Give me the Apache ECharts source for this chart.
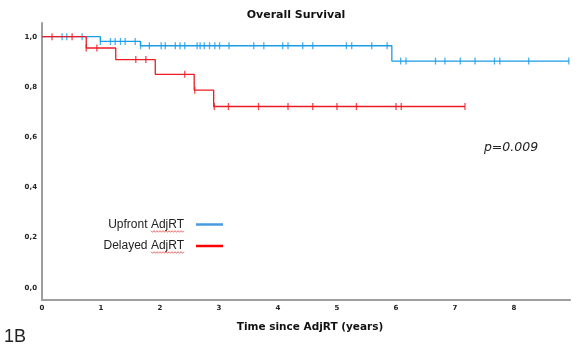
<!DOCTYPE html>
<html>
<head>
<meta charset="utf-8">
<script src="https://cdn.jsdelivr.net/npm/echarts@6/dist/echarts.min.js"></script>
<style>
  html, body { margin: 0; padding: 0; background: #fff; }
  #chart { width: 583px; height: 348px; }
</style>
</head>
<body>
<div id="chart"></div>
<script>
// Kaplan-Meier estimates: event times (years) and survival right after each event
const upfrontEventTimes = [0, 0.99, 1.67, 5.93];
const upfrontSurvival   = [1.0, 0.981, 0.964, 0.903];
const upfrontCensored   = [0.34, 0.42, 0.68, 0.99, 1.16, 1.24, 1.33, 1.41, 1.58,
  1.67, 1.82, 2.02, 2.09, 2.26, 2.34, 2.42, 2.63, 2.68, 2.75, 2.84, 2.93, 3.01,
  3.17, 3.59, 3.76, 4.08, 4.17, 4.42, 4.59, 5.16, 5.25, 5.59, 5.85,
  6.08, 6.17, 6.67, 6.83, 7.09, 7.34, 7.67, 7.76, 8.25, 8.93];
const upfrontEnd = 8.93;

const delayedEventTimes = [0, 0.75, 1.25, 1.92, 2.58, 2.91];
const delayedSurvival   = [1.0, 0.955, 0.909, 0.85, 0.787, 0.722];
const delayedCensored   = [0.17, 0.51, 0.75, 0.93, 1.59, 1.76, 2.42, 2.59,
  2.92, 3.16, 3.67, 4.17, 4.59, 5.0, 5.33, 6.0, 6.09, 7.17];
const delayedEnd = 7.17;

const seriesNames = ['Upfront AdjRT', 'Delayed AdjRT'];
const xTickValues = [0, 1, 2, 3, 4, 5, 6, 7, 8];
const yTickValues = [0, 0.2, 0.4, 0.6, 0.8, 1.0];

const BLUE = '#1b9ce6';
const RED = '#ec1c24';

function stepData(times, surv, end) {
  const pts = times.map((t, i) => [t, surv[i]]);
  pts.push([end, surv[surv.length - 1]]);
  return pts;
}
function survivalAt(times, surv, t) {
  let s = surv[0];
  for (let i = 0; i < times.length; i++) if (times[i] <= t) s = surv[i];
  return s;
}
function censorData(times, surv, cens) {
  return cens.map(t => [t, survivalAt(times, surv, t)]);
}

// wavy spell-check style underline beneath a legend word
function squiggle(x0, x1, y) {
  const pts = [];
  let up = true;
  for (let x = x0; x <= x1; x += 1.5) { pts.push([x, y + (up ? -0.8 : 0.8)]); up = !up; }
  return { type: 'polyline', shape: { points: pts }, style: { stroke: '#e0463f', lineWidth: 0.8, fill: null }, z: 10 };
}

const chart = echarts.init(document.getElementById('chart'), null, { renderer: 'canvas' });

const tickFont = { fontFamily: 'DejaVu Sans', fontWeight: 'bold', fontSize: 7, color: '#222' };

chart.setOption({
  animation: false,
  backgroundColor: '#fff',
  grid: { left: 42, right: 13, top: 23, bottom: 48, containLabel: false },
  xAxis: {
    type: 'value',
    min: 0,
    max: 8.95,
    name: 'Time since AdjRT (years)',
    nameLocation: 'middle',
    nameGap: 22,
    nameTextStyle: { fontFamily: 'DejaVu Sans', fontWeight: 'bold', fontSize: 10.5, color: '#111', padding: [0, 0, 0, 8] },
    axisLine: { show: true, onZero: false, lineStyle: { color: '#9e9e9e', width: 2 } },
    axisTick: { show: false },
    splitLine: { show: false },
    axisLabel: Object.assign({ customValues: xTickValues, margin: 5, formatter: v => String(v) }, tickFont)
  },
  yAxis: {
    type: 'value',
    min: -0.049,
    max: 1.0546,
    axisLine: { show: true, onZero: false, lineStyle: { color: '#9e9e9e', width: 2 } },
    axisTick: { show: false },
    splitLine: { show: false },
    axisLabel: Object.assign({ customValues: yTickValues, margin: 5,
      formatter: v => v.toFixed(1).replace('.', ',') }, tickFont)
  },
  legend: {
    orient: 'vertical',
    align: 'right',
    right: 360,
    top: 218.5,
    padding: 0,
    itemGap: 9.5,
    itemWidth: 27,
    itemHeight: 2.5,
    icon: 'rect',
    textStyle: { fontFamily: 'Liberation Sans', fontSize: 12, color: '#222', padding: [0, 7, 0, 0] },
    data: [
      { name: seriesNames[0], itemStyle: { color: '#4a9ae0' } },
      { name: seriesNames[1], itemStyle: { color: '#ff0000' } }
    ]
  },
  graphic: [
    { type: 'text', x: 296, y: 15, style: { text: 'Overall Survival', font: 'bold 11px "DejaVu Sans"', fill: '#111', textAlign: 'center', textVerticalAlign: 'middle' } },
    { type: 'text', x: 511, y: 148, style: { text: 'p=0.009', font: 'italic 12.5px "DejaVu Sans"', fill: '#222', textAlign: 'center', textVerticalAlign: 'middle' } },
    { type: 'text', x: 4, y: 337, style: { text: '1B', font: '18px "Liberation Sans"', fill: '#222', textAlign: 'left', textVerticalAlign: 'middle' } },
    squiggle(151, 184, 231.5),
    squiggle(151, 184, 252.5)
  ],
  series: [
    {
      name: seriesNames[0], type: 'line', step: 'end', showSymbol: false, symbol: 'none',
      data: stepData(upfrontEventTimes, upfrontSurvival, upfrontEnd),
      lineStyle: { color: BLUE, width: 1.3 }, itemStyle: { color: BLUE }, z: 2
    },
    {
      name: seriesNames[0] + ' censored', type: 'scatter', symbol: 'rect', symbolSize: [1.3, 7],
      data: censorData(upfrontEventTimes, upfrontSurvival, upfrontCensored),
      itemStyle: { color: BLUE }, z: 3
    },
    {
      name: seriesNames[1], type: 'line', step: 'end', showSymbol: false, symbol: 'none',
      data: stepData(delayedEventTimes, delayedSurvival, delayedEnd),
      lineStyle: { color: RED, width: 1.3 }, itemStyle: { color: RED }, z: 4
    },
    {
      name: seriesNames[1] + ' censored', type: 'scatter', symbol: 'rect', symbolSize: [1.3, 7],
      data: censorData(delayedEventTimes, delayedSurvival, delayedCensored),
      itemStyle: { color: RED }, z: 5
    }
  ]
});
</script>
</body>
</html>
